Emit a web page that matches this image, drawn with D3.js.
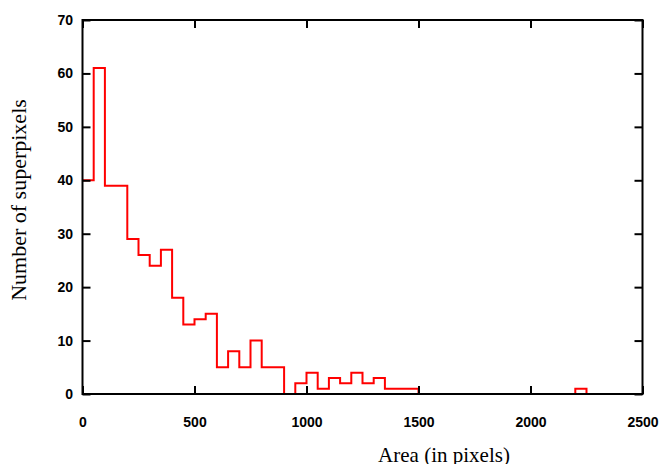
<!DOCTYPE html>
<html>
<head>
<meta charset="utf-8">
<script src="https://cdn.jsdelivr.net/npm/d3@7"></script>
<style>
  body { margin: 0; background: #fff; }
  .tick text { font-family: "Liberation Sans", Arial, sans-serif; font-weight: bold; font-size: 14px; fill: #000; }
  .tick line { stroke: #000; stroke-width: 2; }
  .title { font-family: "Liberation Serif", "Times New Roman", serif; fill: #000; }
</style>
</head>
<body>
<script>
// histogram bins (left edge, bin width 50) and counts
const binStarts = [0, 50, 100, 150, 200, 250, 300, 350, 400, 450,
  500, 550, 600, 650, 700, 750, 800, 850, 900, 950,
  1000, 1050, 1100, 1150, 1200, 1250, 1300, 1350, 1400, 1450,
  1500, 1550, 1600, 1650, 1700, 1750, 1800, 1850, 1900, 1950,
  2000, 2050, 2100, 2150, 2200, 2250];
const counts = [40, 61, 39, 39, 29, 26, 24, 27, 18, 13,
  14, 15, 5, 8, 5, 10, 5, 5, 0, 2,
  4, 1, 3, 2, 4, 2, 3, 1, 1, 1,
  0, 0, 0, 0, 0, 0, 0, 0, 0, 0,
  0, 0, 0, 0, 1, 0];
const xTicks = [0, 500, 1000, 1500, 2000, 2500];
const yTicks = [0, 10, 20, 30, 40, 50, 60, 70];

const width = 661, height = 464;
const margin = {left: 82.5, right: 18.5, top: 20, bottom: 70};

const svg = d3.select("body").append("svg")
  .attr("width", width)
  .attr("height", height);

const x = d3.scaleLinear().domain([0, 2500]).range([margin.left, width - margin.right]);
const y = d3.scaleLinear().domain([0, 70]).range([height - margin.bottom, margin.top]);

// step line (histeps style)
const pts = binStarts.map((b, i) => [b, counts[i]]);
const line = d3.line()
  .x(d => x(d[0]))
  .y(d => y(d[1]))
  .curve(d3.curveStepAfter);

svg.append("path")
  .datum(pts)
  .attr("d", line)
  .attr("fill", "none")
  .attr("stroke", "#ff0000")
  .attr("stroke-width", 2);

// axes with inward ticks, mirrored on top/right
svg.append("g")
  .attr("transform", `translate(0,${y(0)})`)
  .call(d3.axisBottom(x).tickValues(xTicks).tickSize(-8).tickPadding(23).tickFormat(d3.format("d")))
  .call(g => g.select(".domain").remove());

svg.append("g")
  .attr("transform", `translate(0,${y(70)})`)
  .call(d3.axisTop(x).tickValues(xTicks).tickSize(-8).tickFormat(""))
  .call(g => g.select(".domain").remove());

svg.append("g")
  .attr("transform", `translate(${x(0)},0)`)
  .call(d3.axisLeft(y).tickValues(yTicks).tickSize(-8).tickPadding(9.5).tickFormat(d3.format("d")))
  .call(g => g.select(".domain").remove());

svg.append("g")
  .attr("transform", `translate(${x(2500)},0)`)
  .call(d3.axisRight(y).tickValues(yTicks).tickSize(-8).tickFormat(""))
  .call(g => g.select(".domain").remove());

// frame
svg.append("rect")
  .attr("x", x(0))
  .attr("y", y(70))
  .attr("width", x(2500) - x(0))
  .attr("height", y(0) - y(70))
  .attr("fill", "none")
  .attr("stroke", "#000")
  .attr("stroke-width", 2);

// axis titles
svg.append("text")
  .attr("class", "title")
  .attr("x", 444)
  .attr("y", 462)
  .attr("text-anchor", "middle")
  .style("font-size", "21px")
  .text("Area (in pixels)");

svg.append("text")
  .attr("class", "title")
  .attr("transform", "translate(26,200) rotate(-90)")
  .attr("text-anchor", "middle")
  .style("font-size", "22px")
  .text("Number of superpixels");
</script>
</body>
</html>
